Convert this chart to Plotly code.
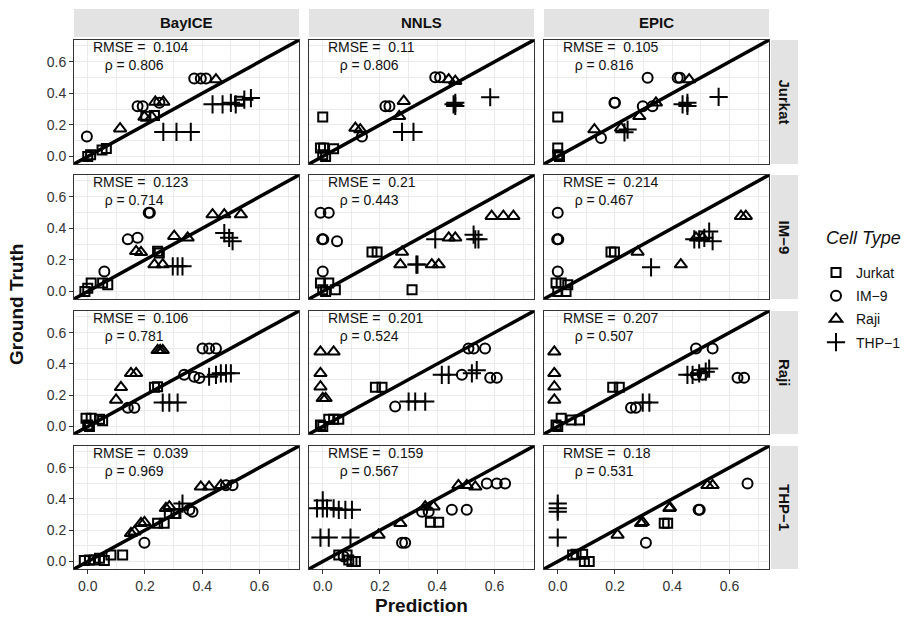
import plotly.graph_objects as go

# ---------------- data ----------------
methods = ["BayICE", "NNLS", "EPIC"]
row_labels = ["Jurkat", "IM\u22129", "Raji", "THP\u22121"]
cell_types = ["Jurkat", "IM\u22129", "Raji", "THP\u22121"]

rmse = [[0.104, 0.11, 0.105],
        [0.123, 0.21, 0.214],
        [0.106, 0.201, 0.207],
        [0.039, 0.159, 0.18]]
rho = [[0.806, 0.806, 0.816],
       [0.714, 0.443, 0.467],
       [0.781, 0.524, 0.507],
       [0.969, 0.567, 0.531]]

# each panel: cell type -> (prediction list, ground truth list)
jurkat_bayice = {
    "Jurkat": ([0.0, 0.01, 0.05, 0.065, 0.203, 0.233, 0.53], [0.0, 0.01, 0.04, 0.05, 0.254, 0.26, 0.35]),
    "IM\u22129": ([-0.003, 0.174, 0.192, 0.25, 0.372, 0.395, 0.413], [0.127, 0.318, 0.318, 0.34, 0.494, 0.494, 0.494]),
    "Raji": ([0.113, 0.198, 0.224, 0.236, 0.264, 0.448], [0.176, 0.25, 0.25, 0.345, 0.345, 0.487]),
    "THP\u22121": ([0.264, 0.31, 0.36, 0.436, 0.471, 0.5, 0.517, 0.547, 0.57], [0.155, 0.155, 0.155, 0.33, 0.33, 0.34, 0.33, 0.36, 0.37]),
}
jurkat_nnls = {
    "Jurkat": ([0.0, -0.008, 0.003, 0.038, 0.0, 0.01], [0.25, 0.053, 0.053, 0.049, 0.01, 0.0]),
    "IM\u22129": ([0.137, 0.219, 0.233, 0.393, 0.41], [0.127, 0.318, 0.318, 0.502, 0.502]),
    "Raji": ([0.114, 0.131, 0.267, 0.283, 0.44, 0.463], [0.18, 0.17, 0.254, 0.35, 0.487, 0.477]),
    "THP\u22121": ([0.277, 0.317, 0.457, 0.463, 0.463, 0.585], [0.155, 0.155, 0.33, 0.34, 0.32, 0.375]),
}
jurkat_epic = {
    "Jurkat": ([0.0, 0.0, 0.0, 0.006], [0.25, 0.053, 0.01, 0.0]),
    "IM\u22129": ([0.151, 0.198, 0.2, 0.297, 0.331, 0.314, 0.419, 0.427], [0.117, 0.34, 0.34, 0.318, 0.318, 0.498, 0.498, 0.498]),
    "Raji": ([0.128, 0.221, 0.285, 0.343, 0.459], [0.17, 0.18, 0.254, 0.34, 0.487]),
    "THP\u22121": ([0.233, 0.244, 0.436, 0.453, 0.453, 0.562], [0.153, 0.17, 0.33, 0.34, 0.32, 0.377]),
}
im9_bayice = {
    "Jurkat": ([-0.01, 0.0, 0.012, 0.052, 0.07, 0.244, 0.25], [0.0, 0.02, 0.053, 0.053, 0.042, 0.254, 0.244]),
    "IM\u22129": ([0.058, 0.14, 0.174, 0.213, 0.217], [0.127, 0.33, 0.34, 0.498, 0.498]),
    "Raji": ([0.169, 0.186, 0.233, 0.262, 0.302, 0.349, 0.436, 0.477, 0.535], [0.254, 0.248, 0.17, 0.17, 0.35, 0.34, 0.487, 0.487, 0.487]),
    "THP\u22121": ([0.297, 0.314, 0.331, 0.477, 0.494, 0.506], [0.159, 0.159, 0.159, 0.37, 0.34, 0.318]),
}
im9_nnls = {
    "Jurkat": ([-0.008, 0.021, 0.0, 0.01, 0.044, 0.172, 0.19, 0.312], [0.053, 0.053, 0.01, 0.0, 0.01, 0.25, 0.25, 0.01]),
    "IM\u22129": ([-0.008, 0.021, -0.002, 0.002, 0.05, 0.0], [0.498, 0.498, 0.33, 0.33, 0.318, 0.127]),
    "Raji": ([0.277, 0.271, 0.381, 0.405, 0.44, 0.463, 0.59, 0.631, 0.666], [0.25, 0.17, 0.17, 0.17, 0.34, 0.34, 0.477, 0.477, 0.477]),
    "THP\u22121": ([0.327, 0.331, 0.393, 0.527, 0.533, 0.544], [0.17, 0.17, 0.33, 0.36, 0.33, 0.33]),
}
im9_epic = {
    "Jurkat": ([-0.006, 0.012, 0.035, 0.0, 0.029, 0.186, 0.198], [0.053, 0.053, 0.042, 0.0, 0.0, 0.25, 0.25]),
    "IM\u22129": ([0.0, -0.002, 0.002, 0.0], [0.498, 0.33, 0.33, 0.127]),
    "Raji": ([0.279, 0.43, 0.483, 0.506, 0.64, 0.657], [0.25, 0.17, 0.34, 0.34, 0.477, 0.477]),
    "THP\u22121": ([0.326, 0.477, 0.494, 0.512, 0.529, 0.541], [0.153, 0.33, 0.33, 0.34, 0.38, 0.318]),
}
raji_bayice = {
    "Jurkat": ([-0.006, 0.012, 0.041, 0.052, 0.0, 0.006, 0.233, 0.244], [0.053, 0.053, 0.047, 0.036, 0.01, 0.0, 0.25, 0.254]),
    "IM\u22129": ([0.14, 0.163, 0.337, 0.372, 0.39, 0.401, 0.424, 0.448], [0.12, 0.12, 0.33, 0.318, 0.31, 0.498, 0.498, 0.498]),
    "Raji": ([0.099, 0.116, 0.151, 0.169, 0.244, 0.253, 0.262], [0.17, 0.25, 0.34, 0.34, 0.487, 0.487, 0.487]),
    "THP\u22121": ([0.262, 0.285, 0.314, 0.424, 0.448, 0.465, 0.483, 0.5], [0.153, 0.153, 0.153, 0.318, 0.33, 0.34, 0.34, 0.34]),
}
raji_nnls = {
    "Jurkat": ([-0.008, 0.021, 0.038, 0.056, 0.0, 0.184, 0.207], [0.01, 0.047, 0.047, 0.047, 0.0, 0.25, 0.25]),
    "IM\u22129": ([0.253, 0.486, 0.509, 0.527, 0.567, 0.585, 0.608], [0.127, 0.33, 0.498, 0.498, 0.498, 0.311, 0.311]),
    "Raji": ([-0.008, 0.038, -0.008, -0.008, 0.0, 0.01], [0.477, 0.477, 0.34, 0.254, 0.18, 0.18]),
    "THP\u22121": ([0.3, 0.323, 0.358, 0.416, 0.44, 0.521, 0.538], [0.159, 0.159, 0.159, 0.33, 0.33, 0.34, 0.36]),
}
raji_epic = {
    "Jurkat": ([-0.006, 0.012, 0.047, 0.076, 0.0, 0.192, 0.215], [0.01, 0.053, 0.042, 0.042, 0.0, 0.25, 0.25]),
    "IM\u22129": ([0.256, 0.273, 0.483, 0.506, 0.483, 0.541, 0.628, 0.651], [0.12, 0.12, 0.33, 0.33, 0.498, 0.498, 0.311, 0.311]),
    "Raji": ([-0.012, -0.012, -0.012, -0.012], [0.477, 0.34, 0.254, 0.17]),
    "THP\u22121": ([0.297, 0.32, 0.453, 0.471, 0.494, 0.517, 0.529], [0.153, 0.153, 0.33, 0.33, 0.34, 0.35, 0.37]),
}
thp1_bayice = {
    "Jurkat": ([-0.012, 0.006, 0.023, 0.041, 0.058, 0.081, 0.122, 0.244, 0.267, 0.285, 0.308], [0.006, 0.01, 0.01, 0.021, 0.006, 0.042, 0.042, 0.244, 0.244, 0.307, 0.307]),
    "IM\u22129": ([0.198, 0.355, 0.366, 0.483, 0.506], [0.12, 0.33, 0.318, 0.487, 0.487]),
    "Raji": ([0.151, 0.163, 0.186, 0.198, 0.273, 0.285, 0.395, 0.424, 0.465], [0.18, 0.19, 0.244, 0.25, 0.34, 0.35, 0.477, 0.477, 0.487]),
    "THP\u22121": ([0.32, 0.331], [0.33, 0.37]),
}
thp1_nnls = {
    "Jurkat": ([0.056, 0.085, 0.091, 0.102, 0.114, 0.376, 0.405], [0.042, 0.042, 0.01, 0.0, 0.0, 0.25, 0.25]),
    "IM\u22129": ([0.073, 0.277, 0.288, 0.347, 0.37, 0.451, 0.503, 0.573, 0.608, 0.637], [0.032, 0.12, 0.12, 0.318, 0.318, 0.33, 0.33, 0.498, 0.498, 0.498]),
    "Raji": ([0.195, 0.271, 0.358, 0.387, 0.474, 0.503, 0.533], [0.17, 0.244, 0.35, 0.35, 0.487, 0.487, 0.477]),
    "THP\u22121": ([-0.02, 0.0, 0.015, 0.038, 0.056, 0.079, 0.102, 0.0, -0.008, 0.021, 0.097], [0.34, 0.34, 0.34, 0.34, 0.33, 0.33, 0.33, 0.39, 0.153, 0.153, 0.153]),
}
thp1_epic = {
    "Jurkat": ([0.052, 0.064, 0.087, 0.093, 0.11, 0.372, 0.384], [0.042, 0.047, 0.047, 0.0, 0.0, 0.244, 0.244]),
    "IM\u22129": ([0.308, 0.492, 0.496, 0.663], [0.12, 0.33, 0.33, 0.498]),
    "Raji": ([0.209, 0.291, 0.297, 0.39, 0.392, 0.523, 0.541], [0.17, 0.244, 0.25, 0.34, 0.345, 0.487, 0.487]),
    "THP\u22121": ([0.0, 0.0, 0.0, 0.0], [0.37, 0.34, 0.318, 0.153]),
}

panels = [[jurkat_bayice, jurkat_nnls, jurkat_epic],
          [im9_bayice, im9_nnls, im9_epic],
          [raji_bayice, raji_nnls, raji_epic],
          [thp1_bayice, thp1_nnls, thp1_epic]]

tick_vals = [0.0, 0.2, 0.4, 0.6]
tick_text = ["0.0", "0.2", "0.4", "0.6"]

# ---------------- styling ----------------
W, H = 921, 631
AX_LO, AX_HI = -0.048, 0.738
col_px = [(74, 299), (309, 534), (544, 769)]
row_px = [(40, 164), (175, 299), (311, 434), (446, 569)]
FONT = "Liberation Sans, Arial, Helvetica, sans-serif"
symbols = {"Jurkat": ("square-open", 9), "IM\u22129": ("circle-open", 10),
           "Raji": ("triangle-up-open", 11), "THP\u22121": ("cross-thin-open", 13)}
GRID = "#EBEBEB"
BORDER = "#333333"

fig = go.Figure()
layout = dict(width=W, height=H, margin=dict(l=0, r=0, t=0, b=0),
              paper_bgcolor="white", plot_bgcolor="white",
              font=dict(family=FONT, color="#111"), shapes=[], annotations=[])

for r in range(4):
    for c in range(3):
        n = r * 3 + c + 1
        xname = "xaxis" if n == 1 else f"xaxis{n}"
        yname = "yaxis" if n == 1 else f"yaxis{n}"
        xref = "x" if n == 1 else f"x{n}"
        yref = "y" if n == 1 else f"y{n}"
        x0, x1 = col_px[c]
        y0, y1 = row_px[r]
        common = dict(range=[AX_LO, AX_HI], showgrid=True, gridcolor=GRID, gridwidth=1.2,
                      minor=dict(dtick=0.1, tick0=0.1, showgrid=True, gridcolor=GRID, gridwidth=0.6),
                      tickvals=tick_vals, ticktext=tick_text, zeroline=False,
                      showline=True, mirror=True, linecolor=BORDER, linewidth=1,
                      tickfont=dict(size=14, color="#333", family=FONT),
                      ticklen=4, tickcolor="#333", tickwidth=1, fixedrange=True)
        layout[xname] = dict(common, domain=[x0 / W, x1 / W], anchor=yref,
                             showticklabels=(r == 3), ticks="outside" if r == 3 else "")
        layout[yname] = dict(common, domain=[1 - y1 / H, 1 - y0 / H], anchor=xref,
                             showticklabels=(c == 0), ticks="outside" if c == 0 else "")

        data = panels[r][c]
        for ct in cell_types:
            xs, ys = data[ct]
            sym, sz = symbols[ct]
            fig.add_trace(go.Scatter(
                x=xs, y=ys, mode="markers", name=ct, legendgroup=ct,
                showlegend=(n == 1), xaxis=xref, yaxis=yref,
                marker=dict(symbol=sym, size=sz, color="black",
                            line=dict(color="black", width=2))))
        fig.add_trace(go.Scatter(x=[AX_LO, AX_HI], y=[AX_LO, AX_HI], mode="lines",
                                 line=dict(color="black", width=3.5), showlegend=False,
                                 hoverinfo="skip", xaxis=xref, yaxis=yref))
        layout["annotations"].append(dict(
            x=0.013, y=0.636, xref=xref, yref=yref,
            text=f"RMSE =  {rmse[r][c]}<br>\u00a0\u00a0\u00a0\u03c1 = {rho[r][c]}",
            showarrow=False, xanchor="left", yanchor="middle", align="left",
            font=dict(size=14, color="#111", family=FONT)))

# strips
STRIP = "#E3E3E3"
for c, m in enumerate(methods):
    x0, x1 = col_px[c]
    layout["shapes"].append(dict(type="rect", xref="paper", yref="paper",
                                 x0=x0 / W, x1=x1 / W, y0=1 - 37 / H, y1=1 - 9 / H,
                                 fillcolor=STRIP, line=dict(width=0), layer="below"))
    layout["annotations"].append(dict(x=(x0 + x1) / 2 / W, y=1 - 23 / H, xref="paper", yref="paper",
                                      xanchor="center", yanchor="middle",
                                      text=f"<b>{m}</b>", showarrow=False,
                                      font=dict(size=15, color="#111", family=FONT)))
for r, lab in enumerate(row_labels):
    y0, y1 = row_px[r]
    layout["shapes"].append(dict(type="rect", xref="paper", yref="paper",
                                 x0=771 / W, x1=798 / W, y0=1 - y1 / H, y1=1 - y0 / H,
                                 fillcolor=STRIP, line=dict(width=0), layer="below"))
    layout["annotations"].append(dict(x=784.5 / W, y=1 - (y0 + y1) / 2 / H, xref="paper", yref="paper",
                                      xanchor="center", yanchor="middle",
                                      text=f"<b>{lab}</b>", showarrow=False, textangle=90,
                                      font=dict(size=15, color="#111", family=FONT)))

# axis titles
layout["annotations"].append(dict(x=421 / W, y=1 - 605 / H, xref="paper", yref="paper",
                                  xanchor="center", yanchor="middle",
                                  text="<b>Prediction</b>", showarrow=False,
                                  font=dict(size=19, color="#111", family=FONT)))
layout["annotations"].append(dict(x=16 / W, y=1 - 305 / H, xref="paper", yref="paper",
                                  xanchor="center", yanchor="middle",
                                  text="<b>Ground Truth</b>", showarrow=False, textangle=-90,
                                  font=dict(size=19, color="#111", family=FONT)))
# legend title
layout["annotations"].append(dict(x=824 / W, y=1 - 238 / H, xref="paper", yref="paper",
                                  xanchor="left", yanchor="middle",
                                  text="<i>Cell Type</i>", showarrow=False,
                                  font=dict(size=18, color="#111", family=FONT)))

layout["legend"] = dict(x=816 / W, y=1 - 257 / H, xanchor="left", yanchor="top",
                        font=dict(size=14, family=FONT, color="#111"),
                        bgcolor="rgba(0,0,0,0)", tracegroupgap=2, itemwidth=30)
layout["showlegend"] = True

fig.update_layout(**layout)
fig.write_html("out.html")
